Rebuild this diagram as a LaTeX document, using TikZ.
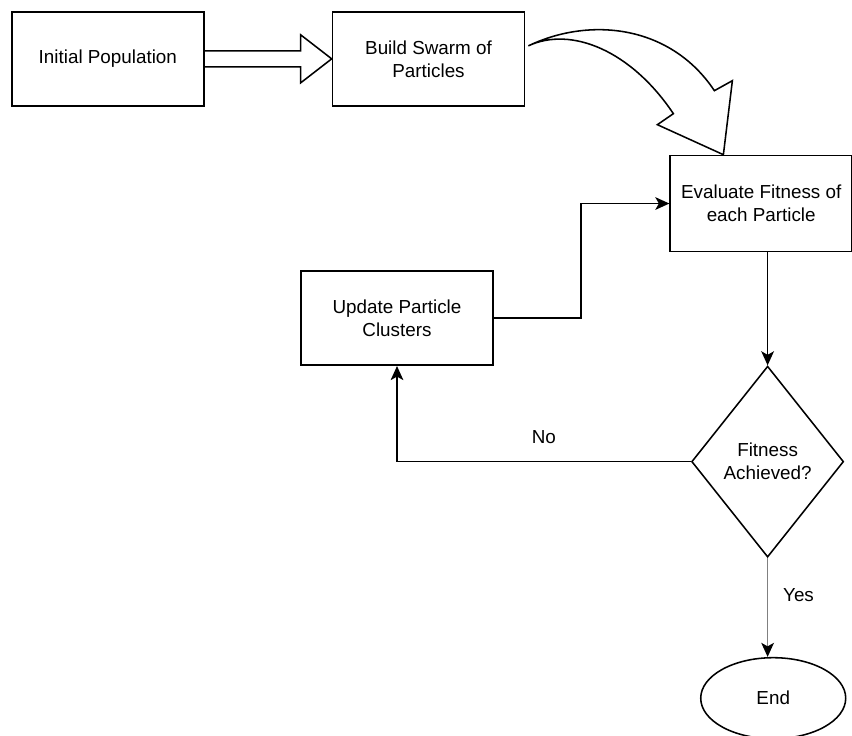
\documentclass[tikz,border=0pt]{standalone}
\usepackage{fontspec}
\setmainfont{Liberation Sans}
\usetikzlibrary{shapes.geometric, arrows.meta, positioning, calc}
\tikzstyle{box} = [rectangle, minimum width=4.8cm, minimum height=2.35cm, align=center, draw=black, line width=1.2pt]
\tikzstyle{decision} = [diamond, minimum width=3.8cm, minimum height=4.775cm, inner sep=0pt, align=center, draw=black, line width=1.1pt]
\tikzstyle{stop} = [ellipse, minimum width=3.625cm, minimum height=2.025cm, align=center, draw=black, line width=1.1pt]
\tikzset{flowarrow/.style={draw, line width=1.2pt, -{Stealth[length=10pt, width=9pt, inset=2.5pt, color=black]}}}
\tikzstyle{bigarrow} = [line width=1.1pt, line join=miter]

\begin{document}
\begin{tikzpicture}[font=\fontsize{13.4}{16.3}\selectfont]
\useasboundingbox (0,0) rectangle (21.3,-18.4);

% Particle swarm steps
\node (init) [box, anchor=north west] at (0.275,-0.275) {Initial Population};
\node (build) [box, right=3.175cm of init] {Build Swarm of \\ Particles};
\node (eval) [box, minimum width=4.55cm, minimum height=2.4cm, below right=1.2cm and 3.6cm of build.south east, anchor=north west] {Evaluate Fitness of \\ each Particle};

% Check and loop back
\node (fit) [decision, below=2.825cm of eval, xshift=0.16cm] {Fitness \\ Achieved?};
\node (update) [box, above left=2.39cm and 4.925cm of fit.west, anchor=south east] {Update Particle \\ Clusters};

% End
\node (end) [stop, below=2.475cm of fit, xshift=0.14cm] {End};

% Block arrow
\draw [bigarrow] ($(init.east)+(0,0.2)$) -- ($(build.west)+(-0.775,0.2)$) -- ($(build.west)+(-0.775,0.6)$) -- (build.west)
  -- ($(build.west)+(-0.775,-0.6)$) -- ($(build.west)+(-0.775,-0.2)$) -- ($(init.east)+(0,-0.2)$);

% Curved arrow
\coordinate (s) at ($(build.east)+(0.075,0.325)$);
\coordinate (t) at ($(eval.north west)+(1.35,0)$);
\draw [bigarrow] (s) .. controls ($(s)+(1.575,0.75)$) and ($(s)+(3.575,0.5)$) .. ($(t)+(-0.225,1.6)$)
  -- ($(t)+(0.225,1.85)$) -- (t) -- ($(t)+(-1.65,0.75)$) -- ($(t)+(-1.25,1.025)$)
  .. controls ($(s)+(2.575,-0.125)$) and ($(s)+(1.075,0.5)$) .. (s);

% Arrows
\draw [flowarrow] (update.east) -- ++(2.175,0) |- (eval.west);
\draw [flowarrow] (eval.south -| fit.north) -- (fit.north);
\draw [flowarrow] (fit.west) -| node[pos=0.25, above=0.3cm] {No} (update.south);
\draw [flowarrow, draw=gray] (fit.south) -- node[pos=0.38, right=0.25cm] {Yes} (fit.south |- end.north);

\end{tikzpicture}
\end{document}
